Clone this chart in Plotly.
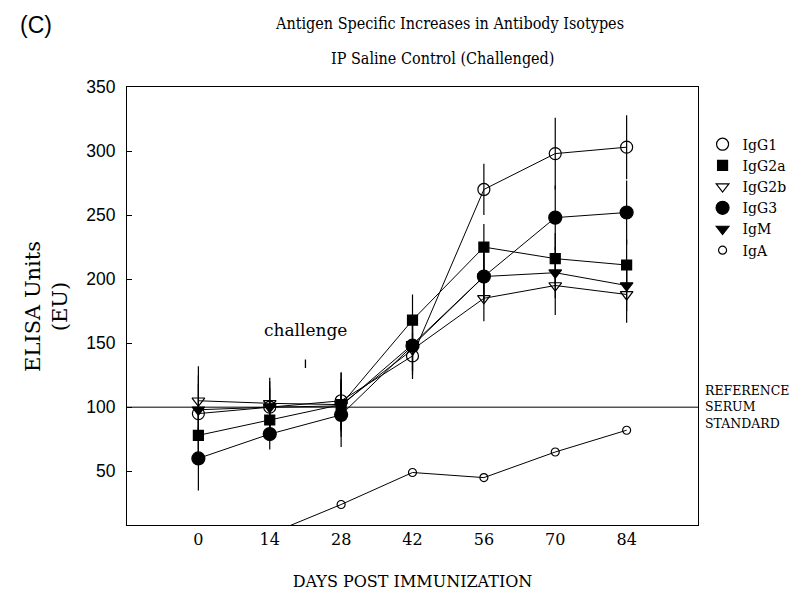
import plotly.graph_objects as go

days = [0, 14, 28, 42, 56, 70, 84]
x_ticks = [0, 14, 28, 42, 56, 70, 84]
y_ticks = [50, 100, 150, 200, 250, 300, 350]

igg1 = [95, 100, 105, 140, 270, 298, 303]
igg1_err = [30, 20, 22, 18, 20, 28, 25]
igg2a = [78, 90, 102, 168, 225, 216, 211]
igg2a_err = [20, 15, 20, 20, 18, 20, 20]
igg2b = [105, 103, 102, 145, 185, 195, 188]
igg2b_err = [27, 20, 25, 20, 18, 23, 22]
igg3 = [60, 79, 94, 148, 202, 248, 252]
igg3_err = [25, 12, 25, 20, 20, 25, 25]
igm = [98, 100, 101, 149, 202, 205, 195]
igm_err = [20, 15, 20, 20, 18, 20, 20]
iga = [None, 1, 24, 49, 45, 65, 82]

reference_level = 100
challenge_day = 21

series = [
    ("IgG1", igg1, igg1_err, "circle-open", 12),
    ("IgG2a", igg2a, igg2a_err, "square", 10),
    ("IgG2b", igg2b, igg2b_err, "triangle-down-open", 11),
    ("IgG3", igg3, igg3_err, "circle", 13),
    ("IgM", igm, igm_err, "triangle-down", 11),
    ("IgA", iga, None, "circle-open", 8),
]

SERIF = "DejaVu Serif"
TITLE_FONT = "DejaVu Serif Condensed, DejaVu Serif"
fig = go.Figure()
for name, vals, err, sym, size in series:
    fig.add_trace(go.Scatter(
        x=days, y=vals, mode="lines+markers", name=name, showlegend=False,
        line=dict(color="black", width=1),
        marker=dict(symbol=sym, size=size, color="black", line=dict(color="black", width=1.2)),
        error_y=(dict(type="data", array=err, visible=True, color="black", thickness=1.2, width=0)
                 if err is not None else None),
        connectgaps=False,
    ))
for name, vals, err, sym, size in series:
    fig.add_trace(go.Scatter(
        x=[None], y=[None], mode="markers", name=name, showlegend=True,
        marker=dict(symbol=sym, size=size, color="black", line=dict(color="black", width=1.2)),
    ))

fig.add_hline(y=reference_level, line=dict(color="black", width=1))

fig.add_annotation(x=1.0, xref="paper", y=reference_level, yref="y", xanchor="left", yanchor="middle",
                   xshift=5, text="REFERENCE<br>SERUM<br>STANDARD", showarrow=False, align="left",
                   font=dict(family=SERIF, size=12.5, color="black"))
fig.add_annotation(x=challenge_day, y=160, text="challenge", showarrow=False, yanchor="middle",
                   font=dict(family=SERIF, size=17, color="black"))
fig.add_annotation(x=challenge_day, y=130.5, ax=0, ay=-10, text="", showarrow=True, arrowhead=0,
                   arrowwidth=1.3, arrowcolor="black")
fig.add_annotation(x=-0.191, xref="paper", y=1.142, yref="paper", text="(C)", showarrow=False,
                   xanchor="left", yanchor="middle", font=dict(family="Liberation Sans", size=23, color="black"))
fig.add_annotation(x=0.564, xref="paper", y=1.144, yref="paper",
                   text="Antigen Specific Increases in Antibody Isotypes", showarrow=False,
                   yanchor="middle", font=dict(family=TITLE_FONT, size=16, color="black"))
fig.add_annotation(x=0.553, xref="paper", y=1.064, yref="paper", text="IP Saline Control (Challenged)",
                   showarrow=False, yanchor="middle", font=dict(family=TITLE_FONT, size=16, color="black"))
fig.add_annotation(x=-0.142, xref="paper", y=0.5, yref="paper", text="ELISA Units<br>(EU)",
                   textangle=-90, showarrow=False, xanchor="center", yanchor="middle",
                   font=dict(family=SERIF, size=21, color="black"))

fig.update_layout(
    width=800, height=594,
    margin=dict(l=119, r=110, t=79, b=77),
    paper_bgcolor="white", plot_bgcolor="white",
    showlegend=True,
    legend=dict(x=1.008, y=0.905, xanchor="left", yanchor="top", font=dict(family=SERIF, size=14, color="black"),
                bgcolor="rgba(0,0,0,0)", tracegroupgap=0, itemsizing="trace"),
    xaxis=dict(range=[-14, 98], tickvals=x_ticks, ticktext=[str(t) for t in x_ticks], showgrid=False,
               zeroline=False, showline=True, mirror=True, linecolor="black", linewidth=1, ticks="",
               tickfont=dict(family=SERIF, size=16, color="black"),
               title=dict(text="DAYS POST IMMUNIZATION", font=dict(family=SERIF, size=16, color="black"), standoff=27)),
    yaxis=dict(range=[8, 350], tickvals=y_ticks, showgrid=False, zeroline=False, showline=True, mirror=True,
               linecolor="black", linewidth=1, ticks="inside", ticklen=5, tickcolor="black",
               ticklabelstandoff=7,
               tickfont=dict(family="Liberation Sans", size=17.5, color="black")),
)

fig.write_html("out.html")
